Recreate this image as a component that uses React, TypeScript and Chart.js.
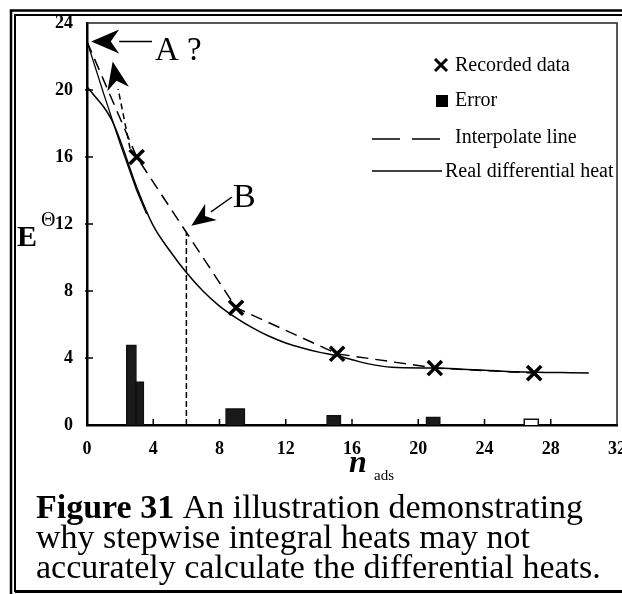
import React, { useEffect, useRef } from "react";
import { Chart, registerables } from "chart.js";
Chart.register(...registerables);

// ---- data ----
const xTicks = [0, 4, 8, 12, 16, 20, 24, 28, 32];
const yTicks = [0, 4, 8, 12, 16, 20, 24];

const recordedX = [3, 9, 15.1, 21, 27];
const recordedY = [16, 7, 4.25, 3.4, 3.1];

const interpX = [0, 3, 9, 15.1, 21, 27];
const interpY = [22.9, 16, 7, 4.25, 3.4, 3.1];

const realX = [0, 0.5, 1, 1.5, 2, 3, 4, 5, 6, 7, 8, 9, 10, 11, 12, 13, 14, 15, 16, 17, 18.4, 21, 22.4, 25.4, 30.3];
const realY = [20.2, 19.6, 19.0, 18.2, 17.0, 14.2, 11.9, 10.4, 9.1, 8.0, 7.1, 6.4, 5.8, 5.3, 4.9, 4.6, 4.35, 4.15, 3.9, 3.65, 3.45, 3.4, 3.35, 3.2, 3.1];

const steepX = [0, 1, 2, 3, 3.6];
const steepY = [22.9, 19.8, 16.8, 14.0, 12.6];

const bLineX = [6, 6];
const bLineY = [0, 11.5];

const errX0 = [2.4, 2.95, 8.4, 14.5, 20.5, 26.4];
const errX1 = [2.95, 3.4, 9.5, 15.3, 21.3, 27.25];
const errH = [4.75, 2.55, 0.95, 0.55, 0.45, 0.35];
const errFilled = [true, true, true, true, true, false];

const legendLabels = ["Recorded data", "Error", "Interpolate line", "Real differential heat"];
const captionLines = [
  ["Figure 31", " An illustration demonstrating"],
  ["", "why stepwise integral heats may not"],
  ["", "accurately calculate the differential heats."],
];

const SERIF = "'Liberation Serif', 'Times New Roman', serif";
const CW = 640;
const CH = 594;

function pts(xs: number[], ys: number[]) {
  return xs.map((x, i) => ({ x, y: ys[i] }));
}

function drawArrow(ctx: CanvasRenderingContext2D, x1: number, y1: number, x2: number, y2: number, headLen: number, headHalf: number, dash: number[]) {
  const a = Math.atan2(y2 - y1, x2 - x1);
  const bx = x2 - headLen * Math.cos(a);
  const by = y2 - headLen * Math.sin(a);
  ctx.save();
  ctx.strokeStyle = "#000";
  ctx.lineWidth = 1.5;
  ctx.setLineDash(dash);
  ctx.beginPath();
  ctx.moveTo(x1, y1);
  ctx.lineTo(bx, by);
  ctx.stroke();
  ctx.setLineDash([]);
  ctx.fillStyle = "#000";
  ctx.beginPath();
  ctx.moveTo(x2, y2);
  ctx.lineTo(bx + headHalf * Math.sin(a), by - headHalf * Math.cos(a));
  ctx.lineTo(x2 - headLen * 0.7 * Math.cos(a), y2 - headLen * 0.7 * Math.sin(a));
  ctx.lineTo(bx - headHalf * Math.sin(a), by + headHalf * Math.cos(a));
  ctx.closePath();
  ctx.fill();
  ctx.restore();
}

const decorPlugin = {
  id: "decor",
  afterDraw(chart: any) {
    const ctx: CanvasRenderingContext2D = chart.ctx;
    const { left, right, top, bottom } = chart.chartArea;
    const xs = chart.scales.x;
    const ys = chart.scales.y;
    ctx.save();
    // top & right box lines
    ctx.strokeStyle = "#222";
    ctx.lineWidth = 1.5;
    ctx.beginPath();
    ctx.moveTo(left, top);
    ctx.lineTo(right, top);
    ctx.lineTo(right, bottom);
    ctx.stroke();
    // inward ticks
    ctx.strokeStyle = "#000";
    ctx.lineWidth = 1.5;
    xTicks.slice(1, -1).forEach((v) => {
      const px = xs.getPixelForValue(v);
      ctx.beginPath();
      ctx.moveTo(px, bottom);
      ctx.lineTo(px, bottom - 6);
      ctx.stroke();
    });
    yTicks.slice(1, -1).forEach((v) => {
      const py = ys.getPixelForValue(v);
      ctx.beginPath();
      ctx.moveTo(left - 2, py);
      ctx.lineTo(left + 6, py);
      ctx.stroke();
    });

    // outer double frame
    ctx.strokeStyle = "#000";
    ctx.lineWidth = 2.5;
    ctx.strokeRect(11, 10.5, 700, 600);
    ctx.lineWidth = 2;
    ctx.strokeRect(15, 15, 700, 576);
    ctx.lineWidth = 3;
    ctx.beginPath();
    ctx.moveTo(15, 591.5);
    ctx.lineTo(CW, 591.5);
    ctx.stroke();

    // annotations
    const ax = xs.getPixelForValue(0.25), ay = ys.getPixelForValue(22.9);
    drawArrow(ctx, 152, ay, ax, ay, 28, 12, []);
    const dtx = xs.getPixelForValue(1.55), dty = ys.getPixelForValue(21.7);
    const dfx = xs.getPixelForValue(2.6), dfy = ys.getPixelForValue(16.5);
    drawArrow(ctx, dfx, dfy, dtx, dty, 28, 11, [6, 4]);
    const btx = xs.getPixelForValue(6.3), bty = ys.getPixelForValue(11.9);
    drawArrow(ctx, 232, 197, btx, bty, 24, 10, []);

    ctx.fillStyle = "#000";
    ctx.textBaseline = "alphabetic";
    ctx.font = `33px ${SERIF}`;
    ctx.fillText("A ?", 155, 60);
    ctx.font = `34px ${SERIF}`;
    ctx.fillText("B", 233, 207);

    // legend
    ctx.font = `20px ${SERIF}`;
    ctx.textBaseline = "middle";
    ctx.lineWidth = 3;
    ctx.beginPath();
    ctx.moveTo(435, 59); ctx.lineTo(447, 71);
    ctx.moveTo(447, 59); ctx.lineTo(435, 71);
    ctx.stroke();
    ctx.fillText(legendLabels[0], 455, 66);
    ctx.fillRect(436, 95, 12, 12);
    ctx.fillText(legendLabels[1], 455, 101);
    ctx.lineWidth = 1.5;
    ctx.setLineDash([28, 12]);
    ctx.beginPath();
    ctx.moveTo(372, 139); ctx.lineTo(440, 139);
    ctx.stroke();
    ctx.setLineDash([]);
    ctx.fillText(legendLabels[2], 455, 138);
    ctx.beginPath();
    ctx.moveTo(372, 171); ctx.lineTo(442, 171);
    ctx.stroke();
    ctx.fillText(legendLabels[3], 445, 172);

    // axis titles
    ctx.textBaseline = "alphabetic";
    ctx.font = `bold 30px ${SERIF}`;
    ctx.fillText("E", 17, 246);
    ctx.font = `20px ${SERIF}`;
    ctx.fillText("\u0398", 41, 226);
    ctx.font = `italic bold 32px ${SERIF}`;
    ctx.fillText("n", 349, 472);
    ctx.font = `15px ${SERIF}`;
    ctx.fillText("ads", 374, 480);

    // caption
    const bases = [518, 548, 578];
    captionLines.forEach((ln, i) => {
      let x = 36;
      if (ln[0]) {
        ctx.font = `bold 34px ${SERIF}`;
        ctx.fillText(ln[0], x, bases[i]);
        x += ctx.measureText(ln[0]).width;
      }
      ctx.font = `34px ${SERIF}`;
      ctx.fillText(ln[1], x, bases[i]);
    });
    ctx.restore();
  },
};

export default function App() {
  const ref = useRef<HTMLCanvasElement>(null);
  useEffect(() => {
    if (!ref.current) return;
    const errSets = errX0.map((x0, i) => ({
      type: "line" as const,
      data: [
        { x: x0, y: 0 },
        { x: x0, y: errH[i] },
        { x: errX1[i], y: errH[i] },
        { x: errX1[i], y: 0 },
      ],
      borderColor: "#111",
      borderWidth: 1.5,
      backgroundColor: errFilled[i] ? "#1a1a1a" : "#ffffff",
      fill: "origin",
      pointRadius: 0,
      tension: 0,
      order: 5,
    }));
    const chart = new Chart(ref.current, {
      type: "line",
      data: {
        datasets: [
          ...errSets,
          {
            data: pts(realX, realY),
            borderColor: "#000",
            borderWidth: 1.5,
            pointRadius: 0,
            cubicInterpolationMode: "monotone",
            fill: false,
          },
          {
            data: pts(steepX, steepY),
            borderColor: "#000",
            borderWidth: 1.3,
            pointRadius: 0,
            fill: false,
          },
          {
            data: pts(interpX, interpY),
            borderColor: "#000",
            borderWidth: 1.5,
            borderDash: [12, 7],
            pointRadius: 0,
            fill: false,
          },
          {
            data: pts(bLineX, bLineY),
            borderColor: "#000",
            borderWidth: 1.5,
            borderDash: [6, 3],
            pointRadius: 0,
            fill: false,
          },
          {
            data: pts(recordedX, recordedY),
            showLine: false,
            pointStyle: "crossRot",
            pointRadius: 10,
            borderColor: "#000",
            borderWidth: 3.5,
          },
        ] as any,
      },
      options: {
        responsive: false,
        animation: false,
        devicePixelRatio: 1,
        layout: { padding: { top: 23, right: 23, left: 0, bottom: 0 } },
        plugins: { legend: { display: false }, tooltip: { enabled: false }, title: { display: false } },
        scales: {
          x: {
            type: "linear",
            min: 0,
            max: 32,
            afterBuildTicks: (s: any) => { s.ticks = xTicks.map((v) => ({ value: v })); },
            afterFit: (s: any) => { s.height = 169; s.paddingLeft = 0; s.paddingRight = 0; },
            grid: { display: false },
            border: { display: true, color: "#000", width: 2.5 },
            ticks: { color: "#000", padding: 6, font: { family: SERIF, size: 18, weight: "bold" } },
          },
          y: {
            type: "linear",
            min: 0,
            max: 24,
            afterBuildTicks: (s: any) => { s.ticks = yTicks.map((v) => ({ value: v })); },
            afterFit: (s: any) => { s.width = 87; s.paddingTop = 0; s.paddingBottom = 0; },
            grid: { display: false },
            border: { display: true, color: "#000", width: 2.5 },
            ticks: { color: "#000", padding: 6, font: { family: SERIF, size: 18, weight: "bold" } },
          },
        },
      } as any,
      plugins: [decorPlugin],
    });
    return () => chart.destroy();
  }, []);
  return (
    <div style={{ position: "fixed", left: 0, top: 0, width: 622, height: CH, overflow: "hidden", background: "#fff" }}>
      <canvas ref={ref} width={CW} height={CH} style={{ width: CW, height: CH, display: "block" }} />
    </div>
  );
}
